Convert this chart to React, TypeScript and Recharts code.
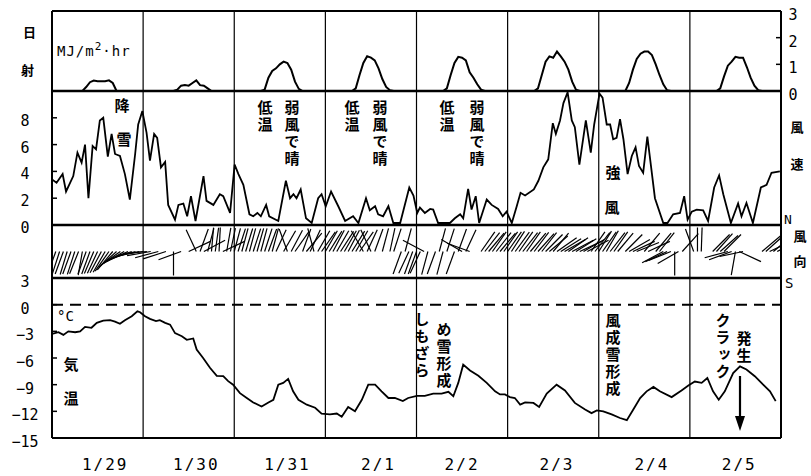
import React from 'react'
import { LineChart, Line, ScatterChart, Scatter, XAxis, YAxis, ReferenceLine } from 'recharts'

// hours counted from 1/29 00:00, eight days
const dayLines = [24, 48, 72, 96, 120, 144, 168]
const hourTicks = [3, 7, 11, 15, 19, 23, 27, 31, 35, 39, 43, 47, 51, 55, 59, 63, 67, 71, 75, 79, 83, 87, 91, 95,
  99, 103, 107, 111, 115, 119, 123, 127, 131, 135, 139, 143, 147, 151, 155, 159, 163, 167, 171, 175, 179, 183, 187, 191]
const dayLabels = ['1/29', '1/30', '1/31', '2/1', '2/2', '2/3', '2/4', '2/5']
const dayLabelHours = [14, 38, 62, 86, 108, 133, 158, 181]

// 日射 MJ/m2hr  [hour, value]
const solar: [number, number][] = [
  [0, 0], [8, 0], [9, 0.15], [10, 0.33], [11, 0.39], [12, 0.37], [13, 0.37], [14, 0.37], [15, 0.4], [16, 0.3], [17, 0],
  [32, 0], [33, 0.05], [34, 0.2], [35, 0.22], [36, 0.2], [37, 0.3], [38, 0.4], [39, 0.22], [40, 0.2], [41, 0.1], [42, 0],
  [55, 0], [56, 0.05], [57, 0.5], [58, 0.75], [59, 0.85], [60, 1.0], [61, 1.1], [62, 1.05], [63, 0.8], [64, 0.35], [65, 0.08], [66, 0],
  [79, 0], [80, 0.1], [81, 0.6], [82, 1.05], [83, 1.3], [84, 1.25], [85, 1.15], [86, 0.85], [87, 0.45], [88, 0.15], [89, 0.03], [90, 0],
  [103, 0], [104, 0.1], [105, 0.6], [106, 1.05], [107, 1.28], [108, 1.25], [109, 1.15], [110, 0.7], [111, 0.5], [112, 0.25], [113, 0.05], [114, 0],
  [127, 0], [128, 0.1], [129, 0.6], [130, 1.1], [131, 1.3], [132, 1.25], [133, 1.48], [134, 1.3], [135, 1.1], [136, 0.8], [137, 0.35], [138, 0.05], [139, 0],
  [151, 0], [152, 0.3], [153, 0.8], [154, 1.2], [155, 1.4], [156, 1.48], [157, 1.48], [158, 1.35], [159, 1.0], [160, 0.6], [161, 0.25], [162, 0.03], [163, 0],
  [175, 0], [176, 0.1], [177, 0.55], [178, 0.95], [179, 1.1], [180, 1.28], [181, 1.25], [182, 1.25], [183, 0.9], [184, 0.5], [185, 0.2], [186, 0.03], [187, 0], [192, 0],
]

// 風速 m/s  [hour, value]
const windSpeed: [number, number][] = [
  [0, 3.4], [1.2, 3.15], [2.8, 3.8], [3.7, 2.5], [5.6, 3.65], [6.7, 5.4], [7.8, 4.65], [8.7, 6.0], [9.6, 2.0], [10.7, 5.9],
  [11.6, 5.65], [12.6, 7.8], [13.5, 8.0], [14.7, 5.1], [15.7, 6.8], [16.6, 5.3], [17.9, 5.15], [19.2, 3.8], [20.5, 1.9], [21.9, 5.3],
  [22.7, 7.5], [23.8, 8.5], [24.9, 6.9], [25.8, 4.8], [26.9, 6.8], [27.7, 6.5], [28.7, 4.3], [29.8, 4.7], [30.6, 1.5], [32.4, 0.4],
  [33.3, 1.5], [34.6, 1.6], [35.6, 0.65], [36.6, 2.15], [37.8, 0.3], [39.9, 3.65], [40.7, 1.8], [42.5, 1.5], [44.2, 2.3], [45.1, 2.15],
  [46.9, 0.9], [48.1, 4.5], [49.1, 3.8], [50.4, 3.0], [52, 0.8], [53, 0.65], [54.1, 0.9], [55, 0.65], [56.4, 1.5], [57.2, 0.65],
  [59.6, 0.3], [61.6, 3.3], [62.7, 2.0], [63.6, 2.3], [64.4, 2.0], [65.5, 2.65], [66.9, 0.5], [68.4, 0.15], [70.1, 2.0], [71, 2.3],
  [72.1, 1.4], [73.5, 2.5], [75.4, 1.4], [77.2, 0.3], [79.3, 0.65], [80.7, 0.15], [82.7, 2.0], [83.7, 1.1], [85.1, 1.4], [85.9, 0.8],
  [87.2, 0.65], [88.6, 1.4], [89.9, 0.15], [91.7, 0.15], [94.1, 2.8], [95.2, 2.2], [96.2, 0.9], [96.9, 1.3], [98.2, 0.9], [99.6, 1.2],
  [100.4, 1.15], [101.7, 0.15], [104.8, 0.15], [106.1, 0.5], [107.5, 0.8], [108.3, 0.5], [109.6, 2.7], [110.5, 1.15], [111.6, 2.15], [112.5, 0.15],
  [114.5, 1.9], [115.8, 1.5], [117.5, 1.2], [118.7, 0.65], [119.7, 1.0], [121.1, 0.15], [122.4, 1.4], [123.4, 2.4], [124.6, 2.2], [126.9, 2.65],
  [128.1, 3.3], [129.4, 4.3], [130.7, 4.9], [131.9, 7.6], [132.7, 6.8], [133.8, 7.8], [134.7, 9.1], [135.8, 9.9], [136.9, 7.8], [137.7, 7.3],
  [138.9, 4.5], [140.6, 7.8], [141.9, 5.4], [142.8, 7.5], [144.2, 9.8], [145, 9.5], [146.1, 7.5], [147, 7.5], [147.8, 6.4], [148.7, 6.5],
  [149.6, 7.9], [150.5, 6.4], [151.6, 3.8], [152.7, 5.15], [153.7, 5.8], [154.6, 4.4], [155.7, 3.9], [156.8, 6.6], [157.8, 4.3], [158.8, 2.0],
  [161, 0.15], [162.1, 0.15], [163.6, 0.8], [165.4, 0.9], [166.5, 2.15], [167.4, 0.4], [168.5, 1.0], [169.8, 1.15], [171.5, 1.1], [172.8, 0.3],
  [174.4, 2.8], [175.7, 3.7], [176.8, 2.3], [178.8, 0.15], [180.7, 1.6], [181.6, 0.65], [182.9, 1.65], [184.6, 0.15], [186.7, 2.8], [188.2, 3.0],
  [189.5, 3.9], [191.7, 4.0],
]

// 風向 hourly, degrees from N (null = no stick)
const windDir: (number | null)[] = [
  245, 200, 198, 200, 197, 200, 198, 202, 190, 200, 200, 203, 205, 208, 210, 215, 220, 228, 235, 240, 245, 250, 255, 258,
  262, 265, 260, null, 255, null, 252, null, 180, null, 250, null, 65, null, 335, 20, 62, 15, 5, 8, 3, 65, 10, 12,
  15, 18, 15, 17, 15, 18, 16, 15, 18, 20, 15, 25, null, 30, 340, 28, 35, null, 20, 40, 25, 345, 30, 35,
  30, 32, 28, 30, 33, 30, 28, 32, 30, 35, 330, 25, 335, 20, null, 15, null, 12, 18, null, 200, 15, 205, 200,
  200, 205, 298, 195, null, 200, 15, 195, 18, null, 200, 20, 300, 25, 290, null, null, 35, 38, 40, 35, 38, 40, 35,
  35, 33, 36, 35, 38, 35, 40, 37, 42, 38, 45, 50, 40, 55, 58, 60, 55, 62, 58, 65, 60, 62, 35, 38,
  32, 35, 30, 38, 35, 40, null, 45, 60, 65, 68, null, 40, 65, null, 40, 38, 242, 245, 248, 180, 240, 42, null,
  null, 340, 0, 2, null, null, 45, 42, 48, 45, 255, 250, 190, 115, 258, null, null, null, null, 50, 48, 65, 50, 62,
  55,
]

// 気温 °C  [hour, value]
const temperature: [number, number][] = [
  [0, -3.3], [1.7, -3.1], [3, -3.4], [4.3, -3.0], [6.1, -3.1], [7.4, -3.0], [8.7, -2.5], [10.4, -2.6], [11.8, -2.05], [13.5, -1.8],
  [15.3, -1.75], [16.6, -1.9], [17.9, -2.15], [19.2, -1.75], [21, -1.3], [22.5, -0.75], [23.2, -0.85], [24.5, -1.3], [25.8, -1.6], [27.4, -1.85],
  [28.4, -1.75], [29.8, -2.05], [31.1, -2.25], [32.4, -3.2], [34.2, -3.55], [35.5, -3.95], [37.2, -3.8], [38.1, -5.05], [39.8, -6.0], [41.6, -7.1],
  [43.4, -8.0], [45.1, -8.05], [46.4, -8.6], [47.7, -9.0], [49.5, -9.95], [51.3, -10.5], [53, -11.0], [55.2, -11.45], [57, -11.0], [58.3, -10.7],
  [59.6, -9.0], [60.9, -8.8], [62.2, -8.35], [63.5, -9.75], [64.9, -10.7], [67.1, -11.25], [69.3, -11.6], [71, -12.25], [73.2, -12.35], [75, -12.25],
  [76.3, -12.6], [78, -11.5], [79.8, -12.0], [81.6, -10.7], [83.3, -9.0], [85.1, -9.0], [86.8, -9.75], [88.6, -10.5], [90.3, -10.5], [92.4, -10.85],
  [93.8, -10.5], [96.1, -10.25], [98.2, -10.25], [100.4, -10.0], [102.6, -10.0], [104.4, -9.8], [105.7, -10.3], [107, -8.8], [108.3, -6.75], [110.1, -7.4],
  [112.3, -8.0], [114.5, -8.8], [116.7, -9.75], [118, -10.1], [119.3, -10.1], [120.6, -10.4], [121.9, -10.5], [123.3, -11.25], [124.6, -11.0], [126.8, -11.05],
  [128.3, -11.5], [130.3, -10.0], [132.9, -9.0], [135.1, -9.65], [137.7, -11.05], [140.4, -11.8], [142.1, -12.2], [143.5, -11.9], [145.2, -12.0], [147.4, -12.35],
  [149.6, -12.75], [151.4, -13.0], [153.1, -11.8], [154.9, -10.5], [156.6, -9.75], [158.4, -9.25], [160.1, -9.75], [163.2, -10.4], [165.8, -9.65], [167.6, -9.1],
  [169.3, -8.65], [171.1, -8.8], [172.6, -8.25], [174.1, -9.75], [175.6, -10.7], [177.2, -9.75], [179.4, -7.7], [181.2, -6.95], [182.9, -7.3], [185.1, -8.05],
  [187.3, -9.0], [189.1, -9.75], [190.6, -10.85],
]

const solarRows = solar.map(([h, v]) => ({ h, v }))
const windRows = windSpeed.map(([h, v]) => ({ h, v }))
const tempRows = temperature.map(([h, v]) => ({ h, v }))
const dirRows = windDir
  .map((d, h) => ({ h, y: 0, dir: d }))
  .filter((r) => r.dir !== null)

const W = 811
const numFont = '"DejaVu Sans Mono", monospace'
const jpFont = '"Noto Sans CJK JP", sans-serif'
const AX = { stroke: '#000', strokeWidth: 2 }
const TL = { stroke: '#000', strokeWidth: 1.5 }
const STICK = 24

const fmt = (v: number) => (v < 0 ? '\u2212' + Math.abs(v) : String(v))

const SideLabel = (props: any) => {
  const { x, y, payload, shift = 4 } = props
  return (
    <text x={x} y={y + shift} textAnchor="middle" dominantBaseline="central" fontFamily={numFont} fontSize={15} fill="#000">
      {fmt(payload.value)}
    </text>
  )
}

const Stick = (props: any) => {
  const { cx, cy, payload } = props
  const a = (payload.dir * Math.PI) / 180
  return <line x1={cx} y1={cy} x2={cx + STICK * Math.sin(a)} y2={cy - STICK * Math.cos(a)} stroke="#000" strokeWidth={1.2} />
}

const VText = ({ x, y, text, size = 15 }: { x: number; y: number; text: string; size?: number }) => (
  <div
    style={{
      position: 'absolute', left: x - size / 2, top: y, writingMode: 'vertical-rl', fontSize: size,
      lineHeight: 1, letterSpacing: 2, fontFamily: jpFont, fontWeight: 700, color: '#000', whiteSpace: 'nowrap',
    }}
  >
    {text}
  </div>
)

const dayRefs = () =>
  dayLines.map((d) => <ReferenceLine key={d} x={d} stroke="#000" strokeWidth={1.2} />)

const App = () => {
  return (
    <div style={{ position: 'absolute', left: 0, top: 0, width: W, height: 476, background: '#fff' }}>
      <style>{'.recharts-surface{overflow:visible}'}</style>
      {/* 日射 */}
      <LineChart width={W} height={91} data={solarRows} margin={{ top: 10, right: 0, bottom: 0, left: 0 }}>
        <XAxis dataKey="h" type="number" domain={[0, 192]} ticks={hourTicks} orientation="top" height={1}
          tick={false} tickSize={-4} axisLine={AX} tickLine={TL} interval={0} allowDataOverflow />
        <YAxis type="number" domain={[0, 3]} ticks={[1, 2]} width={52} tick={false} tickSize={-5}
          axisLine={AX} tickLine={TL} interval={0} allowDataOverflow />
        <YAxis yAxisId="r" orientation="right" type="number" domain={[0, 3]} ticks={[0, 1, 2, 3]} width={30}
          tickSize={-5} tickMargin={17} tick={<SideLabel shift={4} />} axisLine={AX} tickLine={TL}
          interval={0} allowDataOverflow />
        {dayRefs()}
        <ReferenceLine y={0} stroke="#000" strokeWidth={2.5} />
        <Line dataKey="v" type="linear" stroke="#000" strokeWidth={2} dot={false} isAnimationActive={false} />
      </LineChart>

      {/* 風速 */}
      <LineChart width={W} height={134} data={windRows} margin={{ top: 0, right: 0, bottom: 0, left: 0 }}>
        <XAxis dataKey="h" type="number" domain={[0, 192]} hide allowDataOverflow />
        <YAxis type="number" domain={[0, 10]} ticks={[0, 2, 4, 6, 8]} width={52} tickSize={-5} tickMargin={32}
          tick={<SideLabel shift={3} />} axisLine={AX} tickLine={TL} interval={0} allowDataOverflow />
        <YAxis yAxisId="r" orientation="right" type="number" domain={[0, 10]} ticks={[2, 4, 6, 8]} width={30}
          tick={false} tickSize={-5} axisLine={AX} tickLine={TL} interval={0} allowDataOverflow />
        {dayRefs()}
        <ReferenceLine y={0} stroke="#000" strokeWidth={2.5} />
        <Line dataKey="v" type="linear" stroke="#000" strokeWidth={1.8} dot={false} isAnimationActive={false} />
      </LineChart>

      {/* 風向 */}
      <ScatterChart width={W} height={53} margin={{ top: 0, right: 0, bottom: 0, left: 0 }}>
        <XAxis dataKey="h" type="number" domain={[0, 192]} hide allowDataOverflow />
        <YAxis dataKey="y" type="number" domain={[-1, 1]} width={52} tick={false} tickLine={false} axisLine={AX}
          allowDataOverflow />
        <YAxis yAxisId="r" dataKey="y" orientation="right" type="number" domain={[-1, 1]} width={30}
          tick={false} tickLine={false} axisLine={AX} allowDataOverflow />
        {dayRefs()}
        <ReferenceLine y={-1} stroke="#000" strokeWidth={2.5} />
        <Scatter data={dirRows} shape={Stick} isAnimationActive={false} />
      </ScatterChart>

      {/* 気温 */}
      <LineChart width={W} height={198} data={tempRows} margin={{ top: 0, right: 0, bottom: 36, left: 0 }}>
        <XAxis dataKey="h" type="number" domain={[0, 192]} ticks={hourTicks} height={1} tick={false}
          tickSize={-5} axisLine={AX} tickLine={TL} interval={0} allowDataOverflow />
        <XAxis xAxisId="d" dataKey="h" type="number" domain={[0, 192]} ticks={dayLabelHours} height={1}
          axisLine={false} tickLine={false} tickSize={0} tickMargin={20} interval={0} allowDataOverflow
          tickFormatter={(h: number) => dayLabels[dayLabelHours.indexOf(h)]}
          tick={{ fontFamily: numFont, fontSize: 16, fill: '#000', letterSpacing: 2 }} />
        <YAxis type="number" domain={[-15, 3]} ticks={[3, 0, -3, -6, -9, -12, -15]} width={52} tickSize={-5}
          tickMargin={32} tick={<SideLabel shift={4} />} axisLine={AX} tickLine={TL} interval={0} allowDataOverflow />
        <YAxis yAxisId="r" orientation="right" type="number" domain={[-15, 3]} ticks={[-3, -6, -9, -12]} width={30}
          tick={false} tickSize={-5} axisLine={AX} tickLine={TL} interval={0} allowDataOverflow />
        {dayRefs()}
        <ReferenceLine y={0} stroke="#000" strokeWidth={2} strokeDasharray="11 7" />
        <Line dataKey="v" type="linear" stroke="#000" strokeWidth={1.8} dot={false} isAnimationActive={false} />
      </LineChart>

      {/* annotations */}
      <div style={{ position: 'absolute', left: 23, top: 22, fontFamily: jpFont, fontWeight: 700, fontSize: 13 }}>日</div>
      <div style={{ position: 'absolute', left: 21, top: 60, fontFamily: jpFont, fontWeight: 700, fontSize: 13 }}>射</div>
      <div style={{ position: 'absolute', left: 57, top: 40, fontFamily: numFont, fontSize: 14, letterSpacing: 1 }}>
        MJ/m<sup style={{ fontSize: 11 }}>2</sup>·hr
      </div>
      <VText x={122} y={98} text="降" />
      <VText x={124} y={132} text="雪" />
      <VText x={265} y={100} text="低温" />
      <VText x={292} y={100} text="弱風で晴" />
      <VText x={352} y={100} text="低温" />
      <VText x={380} y={100} text="弱風で晴" />
      <VText x={447} y={100} text="低温" />
      <VText x={477} y={100} text="弱風で晴" />
      <VText x={613} y={165} text="強" />
      <VText x={612} y={200} text="風" />
      <VText x={797} y={121} text="風" size={13} />
      <VText x={797} y={158} text="速" size={13} />
      <div style={{ position: 'absolute', left: 784, top: 212, fontFamily: numFont, fontSize: 13 }}>N</div>
      <VText x={800} y={230} text="風" size={13} />
      <VText x={800} y={255} text="向" size={13} />
      <div style={{ position: 'absolute', left: 785, top: 275, fontFamily: numFont, fontSize: 14 }}>S</div>
      <div style={{ position: 'absolute', left: 57, top: 308, fontFamily: numFont, fontSize: 14 }}>°C</div>
      <VText x={71} y={357} text="気" />
      <VText x={71} y={391} text="温" />
      <VText x={422} y={312} text="しもざら" />
      <VText x={444} y={322} text="め雪形成" />
      <VText x={613} y={313} text="風成雪形成" />
      <VText x={723} y={313} text="クラック" />
      <VText x={744} y={331} text="発生" />
      <svg style={{ position: 'absolute', left: 730, top: 376, width: 20, height: 58 }}>
        <line x1={10} y1={0} x2={10} y2={44} stroke="#000" strokeWidth={2.2} />
        <polygon points="5,40 15,40 10,55" fill="#000" />
      </svg>
    </div>
  )
}

export default App
